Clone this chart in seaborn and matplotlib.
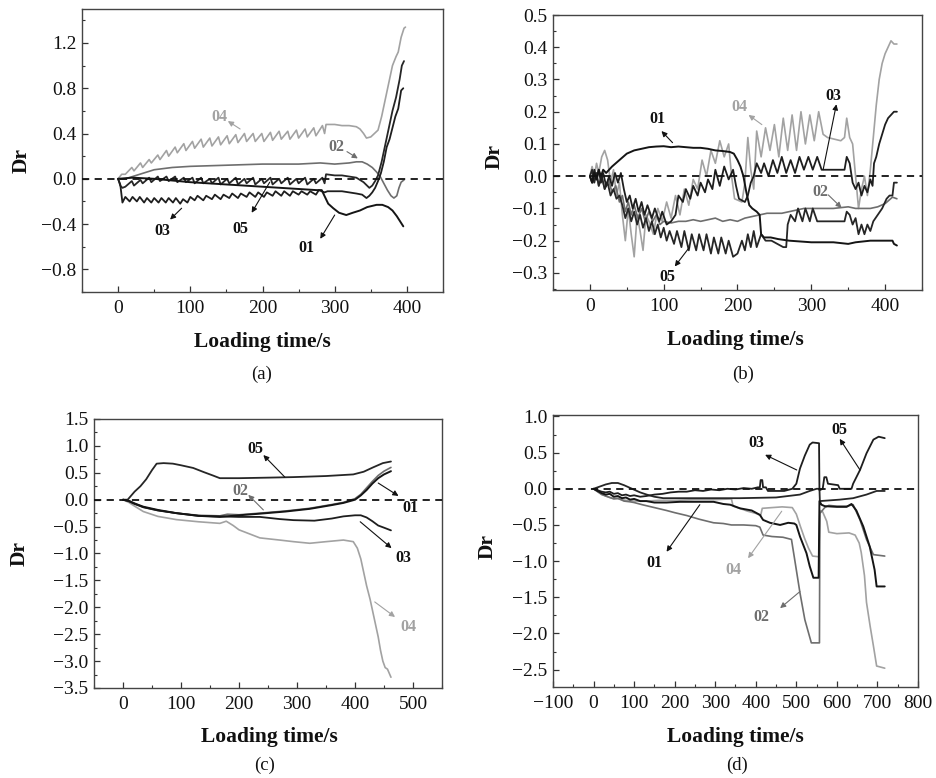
import matplotlib
matplotlib.use("Agg")
import matplotlib.pyplot as plt
from matplotlib.ticker import MultipleLocator, FuncFormatter
import seaborn as sns
import pandas as pd

# ---------------- data (time s, Dr) ----------------
# panel (a)
a01 = [(0, 0), (20, 0.01), (50, 0.0), (100, -0.03), (150, -0.05), (200, -0.07), (250, -0.09), (275, -0.10),
       (282, -0.10), (291, -0.22), (298, -0.26), (306, -0.30), (316, -0.32), (325, -0.30), (335, -0.28),
       (345, -0.25), (358, -0.23), (366, -0.23), (374, -0.25), (380, -0.28), (386, -0.33), (390, -0.37), (395, -0.42)]
a02 = [(0, 0), (10, 0.0), (20, 0.02), (35, 0.05), (50, 0.08), (75, 0.10), (100, 0.11), (150, 0.12), (200, 0.13),
       (250, 0.13), (280, 0.14), (300, 0.13), (320, 0.14), (330, 0.15), (338, 0.15), (345, 0.13), (352, 0.10),
       (358, 0.06), (363, 0.02), (368, -0.04), (373, -0.10), (378, -0.15), (382, -0.17), (386, -0.15),
       (389, -0.08), (392, -0.03), (396, -0.01)]
a03 = [(0, 0), (3, -0.05), (6, -0.21), (10, -0.16), (16, -0.20), (20, -0.16), (26, -0.20), (30, -0.16), (36, -0.21),
       (40, -0.17), (46, -0.21), (50, -0.17), (56, -0.21), (60, -0.17), (66, -0.21), (70, -0.17), (76, -0.21),
       (80, -0.17), (86, -0.22), (90, -0.18), (96, -0.21), (100, -0.16), (106, -0.19), (110, -0.15), (118, -0.19),
       (122, -0.15), (130, -0.18), (134, -0.14), (142, -0.18), (146, -0.14), (154, -0.17), (158, -0.13),
       (166, -0.17), (170, -0.13), (178, -0.16), (182, -0.12), (190, -0.16), (194, -0.12), (202, -0.16),
       (206, -0.12), (214, -0.15), (218, -0.11), (226, -0.15), (230, -0.11), (238, -0.15), (242, -0.11),
       (250, -0.14), (254, -0.11), (262, -0.14), (266, -0.11), (274, -0.14), (278, -0.10), (286, -0.12),
       (290, -0.11), (300, -0.11), (310, -0.11), (320, -0.12), (330, -0.13), (338, -0.14), (344, -0.17),
       (348, -0.15), (352, -0.12), (356, -0.08), (360, -0.02), (364, 0.05), (368, 0.15), (372, 0.28),
       (376, 0.35), (380, 0.45), (384, 0.55), (388, 0.62), (392, 0.78), (395, 0.80)]
a04 = [(0, 0), (5, 0.04), (10, 0.04), (19, 0.10), (22, 0.07), (31, 0.14), (34, 0.10), (43, 0.17), (46, 0.14),
       (55, 0.21), (58, 0.17), (67, 0.25), (70, 0.20), (79, 0.28), (82, 0.23), (91, 0.31), (94, 0.25),
       (103, 0.33), (106, 0.27), (115, 0.35), (118, 0.28), (127, 0.36), (130, 0.29), (139, 0.37), (142, 0.30),
       (151, 0.38), (154, 0.31), (163, 0.39), (166, 0.32), (175, 0.40), (178, 0.33), (187, 0.40), (190, 0.33),
       (199, 0.40), (202, 0.33), (211, 0.41), (214, 0.34), (223, 0.42), (226, 0.35), (235, 0.42), (238, 0.35),
       (247, 0.43), (250, 0.36), (259, 0.44), (262, 0.37), (271, 0.45), (274, 0.38), (283, 0.47), (286, 0.40),
       (288, 0.48), (300, 0.48), (310, 0.47), (320, 0.47), (330, 0.46), (335, 0.44), (340, 0.40), (344, 0.36),
       (350, 0.37), (355, 0.40), (360, 0.43), (365, 0.55), (370, 0.70), (375, 0.85), (380, 1.00), (385, 1.08),
       (388, 1.12), (392, 1.25), (396, 1.33), (398, 1.34)]
a05 = [(0, 0), (3, -0.06), (6, -0.08), (10, -0.07), (19, -0.02), (22, -0.06), (31, -0.01), (34, -0.04),
       (43, 0.01), (46, -0.03), (55, 0.02), (58, -0.02), (67, 0.02), (70, -0.02), (79, 0.02), (82, -0.03),
       (91, 0.01), (94, -0.03), (103, 0.01), (106, -0.04), (115, 0.01), (118, -0.04), (127, 0.0), (130, -0.04),
       (139, 0.01), (142, -0.05), (151, 0.0), (154, -0.04), (163, 0.01), (166, -0.05), (175, 0.0), (178, -0.04),
       (187, 0.01), (190, -0.05), (199, 0.0), (202, -0.04), (211, 0.01), (214, -0.05), (223, 0.0), (226, -0.04),
       (235, 0.01), (238, -0.05), (247, 0.0), (250, -0.04), (259, 0.01), (262, -0.05), (271, 0.0), (274, -0.04),
       (283, 0.01), (286, -0.04), (288, 0.04), (300, 0.03), (310, 0.03), (320, 0.02), (330, 0.01), (340, -0.03),
       (348, -0.08), (352, -0.06), (356, -0.02), (360, 0.03), (365, 0.15), (370, 0.30), (375, 0.45), (380, 0.60),
       (385, 0.72), (390, 0.88), (393, 1.0), (396, 1.04)]

# panel (b)
b01 = [(0, 0), (3, -0.02), (6, 0.01), (9, -0.01), (12, 0.02), (15, 0.0), (18, 0.02), (22, 0.01), (26, 0.02),
       (30, 0.03), (35, 0.04), (40, 0.05), (45, 0.06), (50, 0.07), (55, 0.075), (60, 0.08), (70, 0.085),
       (80, 0.09), (90, 0.092), (100, 0.093), (110, 0.09), (120, 0.092), (130, 0.09), (140, 0.088), (150, 0.088),
       (160, 0.085), (170, 0.08), (180, 0.078), (190, 0.075), (195, 0.07), (200, 0.05), (204, 0.03), (208, 0.0),
       (212, -0.05), (216, -0.09), (220, -0.10), (226, -0.11), (230, -0.12), (232, -0.18), (236, -0.19),
       (245, -0.19), (255, -0.195), (270, -0.2), (300, -0.205), (330, -0.205), (350, -0.21), (360, -0.205),
       (380, -0.2), (400, -0.2), (410, -0.2), (412, -0.21), (416, -0.215)]
b02 = [(0, 0), (4, -0.02), (8, 0.01), (12, -0.03), (16, 0.0), (20, -0.04), (25, -0.01), (30, -0.05), (35, -0.03),
       (40, -0.08), (44, -0.06), (48, -0.11), (52, -0.08), (56, -0.12), (60, -0.09), (65, -0.13), (70, -0.10),
       (75, -0.14), (80, -0.11), (85, -0.14), (90, -0.12), (95, -0.15), (100, -0.14), (110, -0.145), (120, -0.14),
       (130, -0.14), (140, -0.135), (150, -0.14), (160, -0.135), (170, -0.13), (180, -0.14), (190, -0.135),
       (200, -0.14), (210, -0.13), (220, -0.125), (230, -0.12), (240, -0.115), (260, -0.115), (270, -0.11),
       (280, -0.105), (290, -0.10), (310, -0.10), (330, -0.10), (350, -0.095), (360, -0.1), (370, -0.1),
       (380, -0.1), (390, -0.095), (400, -0.085), (405, -0.075), (410, -0.065), (416, -0.07)]
b03 = [(0, 0), (3, -0.02), (6, 0.02), (9, -0.01), (12, 0.02), (15, -0.02), (18, 0.01), (22, -0.03), (26, 0.0),
       (30, -0.03), (34, 0.01), (38, -0.02), (42, 0.01), (46, -0.04), (50, -0.08), (54, -0.06), (58, -0.10),
       (62, -0.07), (66, -0.11), (70, -0.08), (74, -0.12), (78, -0.09), (84, -0.13), (88, -0.10), (94, -0.14),
       (98, -0.11), (104, -0.15), (110, -0.14), (116, -0.12), (120, -0.06), (126, -0.08), (130, -0.04),
       (136, -0.07), (140, -0.03), (146, -0.06), (150, -0.02), (156, -0.05), (160, -0.01), (166, -0.04),
       (170, 0.02), (176, -0.03), (182, 0.03), (188, -0.01), (194, 0.02), (198, -0.03), (202, -0.07),
       (210, -0.08), (214, -0.06), (218, -0.02), (222, 0.0), (226, 0.04), (232, 0.01), (236, 0.04), (242, 0.0),
       (248, 0.05), (254, 0.01), (260, 0.06), (266, 0.01), (272, 0.05), (278, 0.01), (284, 0.06), (290, 0.02),
       (296, 0.06), (302, 0.02), (308, 0.06), (314, 0.02), (320, 0.02), (330, 0.02), (345, 0.02), (348, 0.06),
       (352, 0.04), (356, -0.02), (360, -0.04), (364, -0.02), (368, -0.06), (372, -0.03), (376, -0.05),
       (380, -0.01), (383, -0.03), (385, 0.04), (388, 0.06), (392, 0.10), (396, 0.13), (400, 0.16), (404, 0.18),
       (408, 0.19), (412, 0.20), (416, 0.20)]
b04 = [(0, 0), (3, 0.03), (6, 0.0), (9, 0.04), (12, 0.01), (16, 0.06), (20, 0.08), (24, 0.05), (28, -0.02),
       (32, 0.02), (36, -0.06), (40, -0.02), (44, -0.12), (48, -0.20), (52, -0.10), (56, -0.18), (60, -0.25),
       (64, -0.12), (68, -0.17), (72, -0.23), (76, -0.12), (80, -0.14), (86, -0.18), (92, -0.10), (98, -0.14),
       (104, -0.08), (110, -0.13), (116, -0.06), (122, -0.12), (128, -0.04), (134, -0.09), (140, -0.01),
       (146, -0.04), (152, 0.05), (158, 0.0), (164, 0.08), (170, 0.04), (176, 0.11), (182, 0.06), (188, 0.10),
       (192, 0.0), (196, -0.07), (206, -0.08), (210, -0.02), (214, 0.12), (218, 0.02), (222, -0.04), (226, 0.14),
       (232, 0.06), (238, 0.15), (244, 0.08), (250, 0.16), (256, 0.06), (262, 0.18), (268, 0.08), (274, 0.19),
       (280, 0.08), (286, 0.20), (292, 0.10), (298, 0.19), (304, 0.11), (310, 0.20), (316, 0.13), (322, 0.12),
       (340, 0.11), (345, 0.12), (348, 0.18), (352, 0.12), (356, 0.10), (360, 0.0), (364, -0.10), (368, -0.04),
       (372, 0.0), (376, -0.06), (380, 0.02), (384, 0.12), (388, 0.22), (392, 0.30), (396, 0.35), (400, 0.38),
       (404, 0.40), (408, 0.42), (412, 0.41), (416, 0.41)]
b05 = [(0, 0), (3, 0.02), (6, -0.02), (9, 0.01), (12, -0.03), (16, 0.0), (20, -0.04), (24, -0.02), (28, -0.06),
       (32, -0.04), (36, -0.07), (40, -0.06), (44, -0.09), (48, -0.13), (52, -0.10), (56, -0.14), (60, -0.11),
       (64, -0.15), (68, -0.12), (72, -0.16), (76, -0.13), (80, -0.17), (84, -0.14), (88, -0.18), (92, -0.15),
       (96, -0.19), (100, -0.16), (104, -0.20), (108, -0.17), (114, -0.21), (118, -0.17), (124, -0.22),
       (128, -0.17), (134, -0.23), (138, -0.18), (144, -0.23), (148, -0.18), (154, -0.23), (158, -0.18),
       (164, -0.24), (168, -0.19), (174, -0.24), (178, -0.19), (184, -0.24), (188, -0.20), (194, -0.25),
       (200, -0.24), (206, -0.20), (210, -0.23), (214, -0.18), (218, -0.22), (222, -0.17), (226, -0.22),
       (232, -0.18), (238, -0.20), (246, -0.20), (254, -0.21), (262, -0.22), (266, -0.22), (268, -0.15),
       (272, -0.12), (278, -0.14), (282, -0.10), (288, -0.14), (292, -0.10), (298, -0.14), (302, -0.10),
       (308, -0.14), (320, -0.14), (345, -0.14), (348, -0.11), (352, -0.12), (356, -0.15), (360, -0.13),
       (364, -0.18), (368, -0.15), (372, -0.18), (376, -0.15), (380, -0.17), (384, -0.14), (390, -0.12),
       (396, -0.10), (402, -0.07), (406, -0.06), (410, -0.06), (412, -0.02), (416, -0.02)]

# panel (c)
c01 = [(0, 0), (10, -0.02), (20, -0.07), (35, -0.13), (60, -0.19), (92, -0.25), (130, -0.30), (167, -0.32),
       (200, -0.29), (236, -0.26), (280, -0.22), (322, -0.17), (360, -0.10), (380, -0.06), (400, 0.0),
       (410, 0.08), (420, 0.18), (430, 0.30), (440, 0.40), (450, 0.47), (462, 0.53)]
c02 = [(0, 0), (10, -0.02), (20, -0.07), (35, -0.14), (60, -0.20), (92, -0.25), (130, -0.29), (167, -0.30),
       (180, -0.27), (200, -0.28), (236, -0.25), (280, -0.21), (322, -0.16), (360, -0.09), (380, -0.05),
       (400, 0.02), (410, 0.10), (420, 0.22), (430, 0.34), (440, 0.45), (450, 0.53), (462, 0.60)]
c03 = [(0, 0), (10, -0.03), (20, -0.08), (35, -0.14), (60, -0.20), (92, -0.25), (130, -0.30), (167, -0.31),
       (200, -0.32), (236, -0.32), (270, -0.36), (294, -0.38), (330, -0.39), (360, -0.35), (380, -0.31),
       (400, -0.29), (410, -0.29), (420, -0.33), (430, -0.40), (440, -0.48), (450, -0.52), (462, -0.57)]
c04 = [(0, 0), (10, -0.05), (20, -0.12), (35, -0.22), (60, -0.31), (92, -0.37), (130, -0.41), (167, -0.44),
       (178, -0.40), (190, -0.48), (200, -0.56), (236, -0.71), (270, -0.75), (294, -0.78), (322, -0.81),
       (350, -0.78), (380, -0.75), (397, -0.78), (404, -0.90), (410, -1.10), (415, -1.35), (420, -1.60),
       (426, -1.85), (431, -2.10), (436, -2.35), (440, -2.55), (444, -2.80), (448, -3.00), (452, -3.12),
       (456, -3.15), (460, -3.25), (462, -3.30)]
c05 = [(0, 0), (8, 0.0), (12, 0.05), (20, 0.15), (30, 0.25), (40, 0.38), (50, 0.55), (58, 0.67), (70, 0.68),
       (86, 0.67), (100, 0.64), (121, 0.59), (140, 0.51), (155, 0.45), (167, 0.40), (200, 0.40), (250, 0.41),
       (294, 0.42), (350, 0.44), (397, 0.47), (415, 0.52), (431, 0.60), (448, 0.68), (462, 0.71)]

# panel (d)
d01 = [(0, 0), (10, -0.03), (20, -0.06), (30, -0.08), (40, -0.07), (50, -0.11), (60, -0.10), (70, -0.13),
       (80, -0.12), (90, -0.15), (100, -0.14), (115, -0.17), (130, -0.17), (150, -0.19), (180, -0.19),
       (213, -0.18), (250, -0.18), (296, -0.18), (320, -0.21), (337, -0.22), (361, -0.27), (390, -0.30),
       (410, -0.36), (418, -0.43), (435, -0.47), (460, -0.50), (480, -0.47), (495, -0.48), (500, -0.50),
       (509, -0.66), (525, -0.89), (533, -1.07), (542, -1.23), (555, -1.23), (557, -0.17), (562, -0.22),
       (570, -0.24), (600, -0.25), (624, -0.25), (636, -0.21), (648, -0.30), (665, -0.52), (681, -0.80),
       (693, -1.12), (698, -1.35), (718, -1.35)]
d02 = [(0, 0), (10, -0.04), (20, -0.08), (30, -0.10), (40, -0.12), (50, -0.14), (60, -0.13), (75, -0.17),
       (90, -0.18), (100, -0.19), (120, -0.22), (150, -0.26), (180, -0.30), (200, -0.33), (230, -0.37),
       (260, -0.42), (296, -0.47), (320, -0.48), (340, -0.50), (370, -0.50), (400, -0.51), (410, -0.53),
       (418, -0.64), (440, -0.66), (467, -0.67), (488, -0.70), (496, -0.98), (509, -1.44), (521, -1.81),
       (537, -2.13), (557, -2.13), (558, -0.34), (570, -0.26), (580, -0.23), (600, -0.24), (624, -0.24),
       (640, -0.22), (657, -0.43), (673, -0.70), (690, -0.91), (718, -0.93)]
d03 = [(0, 0), (10, -0.02), (20, -0.04), (30, -0.05), (40, -0.04), (50, -0.07), (60, -0.06), (70, -0.09),
       (80, -0.08), (90, -0.10), (100, -0.09), (115, -0.11), (130, -0.10), (150, -0.08), (170, -0.07),
       (190, -0.05), (210, -0.04), (230, -0.04), (250, -0.02), (270, -0.03), (290, -0.01), (310, -0.02),
       (330, 0.0), (350, -0.01), (370, 0.01), (390, 0.0), (405, 0.02), (410, 0.02), (412, 0.12), (416, 0.12),
       (418, 0.02), (425, 0.02), (430, -0.03), (470, -0.03), (490, 0.0), (500, 0.07), (509, 0.28), (521, 0.46),
       (533, 0.61), (540, 0.64), (556, 0.63), (557, -0.02), (565, 0.0), (569, 0.16), (574, 0.16), (578, 0.07),
       (603, 0.05), (607, 0.0), (636, 0.0), (640, 0.07), (657, 0.26), (673, 0.49), (690, 0.68), (703, 0.72),
       (718, 0.70)]
d04 = [(0, 0), (10, -0.04), (20, -0.07), (30, -0.10), (45, -0.13), (60, -0.14), (80, -0.16), (100, -0.17),
       (130, -0.17), (160, -0.16), (200, -0.16), (250, -0.15), (300, -0.15), (340, -0.14), (344, -0.24),
       (360, -0.27), (380, -0.31), (400, -0.34), (412, -0.37), (416, -0.27), (440, -0.26), (465, -0.25),
       (490, -0.26), (500, -0.35), (510, -0.52), (520, -0.68), (530, -0.82), (540, -0.93), (556, -0.94),
       (558, -0.30), (565, -0.32), (575, -0.45), (580, -0.60), (600, -0.62), (630, -0.61), (645, -0.64),
       (655, -0.75), (660, -0.88), (668, -1.20), (673, -1.57), (682, -1.90), (690, -2.17), (698, -2.45),
       (718, -2.48)]
d05 = [(0, 0), (15, 0.03), (30, 0.06), (45, 0.08), (60, 0.08), (75, 0.05), (95, 0.0), (115, -0.05),
       (131, -0.08), (150, -0.11), (172, -0.13), (250, -0.13), (360, -0.13), (450, -0.12), (509, -0.08),
       (533, -0.03), (550, 0.0), (557, 0.0), (558, -0.17), (607, -0.15), (640, -0.13), (673, -0.08),
       (698, -0.03), (718, -0.03)]

specimens = ["01", "02", "03", "04", "05"]
panel_letters = ["(a)", "(b)", "(c)", "(d)"]

# label positions (text x, text y, arrow tail x, y, arrow head x, y)
a_labels = {"04": (140, 0.55, 169, 0.44, 152, 0.51), "02": (303, 0.28, 317, 0.24, 332, 0.18),
            "03": (61, -0.46, 88, -0.26, 72, -0.36), "05": (169, -0.44, 210, -0.03, 185, -0.30),
            "01": (261, -0.61, 300, -0.32, 280, -0.53)}
b_labels = {"01": (92, 0.176, 112, 0.104, 97, 0.14), "04": (202, 0.216, 233, 0.16, 215, 0.19),
            "03": (330, 0.248, 316, 0.02, 334, 0.223), "02": (312, -0.05, 323, -0.058, 341, -0.098),
            "05": (105, -0.313, 135, -0.22, 115, -0.28)}
c_labels = {"05": (228, 0.94, 279, 0.42, 242, 0.83), "02": (202, 0.16, 242, -0.19, 216, 0.09),
            "01": (495, -0.15, 440, 0.31, 475, 0.07), "03": (483, -1.09, 409, -0.41, 463, -0.90),
            "04": (492, -2.37, 434, -1.90, 469, -2.18)}
d_labels = {"03": (402, 0.63, 501, 0.26, 423, 0.47), "05": (607, 0.81, 657, 0.26, 607, 0.69),
            "01": (151, -1.03, 262, -0.22, 180, -0.87), "04": (344, -1.12, 464, -0.31, 381, -0.96),
            "02": (414, -1.77, 509, -1.42, 460, -1.65)}

# ---------------- styling ----------------
sns.set_theme(style="ticks")
plt.rcParams["font.family"] = ["Liberation Serif", "DejaVu Serif"]

colors = {"01": "#151515", "02": "#6e6e6e", "03": "#1e1e1e", "04": "#a2a2a2", "05": "#262626"}
widths = {"01": 1.4, "02": 1.2, "03": 1.3, "04": 1.2, "05": 1.3}

fig = plt.figure(figsize=(9.37, 7.78), dpi=100)
W, H = 937, 778


def rect(l, r, t, b):
    return [l / W, 1 - b / H, (r - l) / W, (b - t) / H]


panels = [
    dict(rect=rect(82, 443, 9, 292), data=[a01, a02, a03, a04, a05], xlim=(-50, 450), ylim=(-1.0, 1.5),
         xmaj=100, xmin=50, ymaj=0.4, ymin=0.2, labels=a_labels,
         xl=(0.5, -0.177), yl=(-0.167, 0.466), letter=(262, 374), yticks=[-0.8, -0.4, 0.0, 0.4, 0.8, 1.2]),
    dict(rect=rect(553, 922, 15, 290), data=[b01, b02, b03, b04, b05], xlim=(-50, 450), ylim=(-0.353, 0.5),
         xmaj=100, xmin=50, ymaj=0.1, ymin=0.05, labels=b_labels,
         xl=(0.495, -0.182), yl=(-0.157, 0.484), letter=(743, 374), yticks=None),
    dict(rect=rect(94, 442, 419, 688), data=[c01, c02, c03, c04, c05], xlim=(-50, 550), ylim=(-3.5, 1.5),
         xmaj=100, xmin=50, ymaj=0.5, ymin=0.25, labels=c_labels,
         xl=(0.503, -0.181), yl=(-0.213, 0.50), letter=(265, 765), yticks=None),
    dict(rect=rect(553, 918, 415, 687), data=[d01, d02, d03, d04, d05], xlim=(-100, 800), ylim=(-2.74, 1.02),
         xmaj=100, xmin=50, ymaj=0.5, ymin=0.25, labels=d_labels,
         xl=(0.50, -0.183), yl=(-0.178, 0.515), letter=(737, 765), yticks=None),
]

draw_order = ["04", "02", "05", "03", "01"]

for i, p in enumerate(panels):
    ax = fig.add_axes(p["rect"])
    curves = dict(zip(specimens, p["data"]))
    for s in draw_order:
        df = pd.DataFrame(curves[s], columns=["t", "Dr"])
        sns.lineplot(data=df, x="t", y="Dr", ax=ax, color=colors[s], linewidth=widths[s],
                     estimator=None, sort=False, legend=False)
    ax.axhline(0, color="#111111", lw=1.3, ls=(0, (4, 3)), zorder=5)
    ax.set_xlim(*p["xlim"])
    ax.set_ylim(*p["ylim"])
    ax.xaxis.set_major_locator(MultipleLocator(p["xmaj"]))
    ax.xaxis.set_minor_locator(MultipleLocator(p["xmin"]))
    if p["yticks"] is not None:
        ax.set_yticks(p["yticks"])
    else:
        ax.yaxis.set_major_locator(MultipleLocator(p["ymaj"]))
    ax.yaxis.set_minor_locator(MultipleLocator(p["ymin"]))
    ax.yaxis.set_major_formatter(FuncFormatter(
        lambda v, pos: ("\u2212" if v < -1e-9 else "") + "{:.1f}".format(abs(v))))
    ax.tick_params(axis="both", which="both", direction="in", bottom=True, left=True, top=False, right=False,
                   labelsize=14, color="#333333", labelcolor="#111111")
    ax.tick_params(which="major", length=4.5, width=0.9)
    ax.tick_params(which="minor", length=2.5, width=0.8)
    ax.tick_params(axis="x", pad=6)
    ax.tick_params(axis="y", pad=4)
    for sp in ax.spines.values():
        sp.set_color("#444444")
        sp.set_linewidth(1.0)
    ax.set_xlabel("Loading time/s", fontsize=15.5, fontweight="bold", color="#111111")
    ax.set_ylabel("Dr", fontsize=15.5, fontweight="bold", color="#111111")
    ax.xaxis.set_label_coords(*p["xl"])
    ax.xaxis.label.set_va("center")
    ax.yaxis.set_label_coords(*p["yl"])
    ax.yaxis.label.set_va("center")
    for s, (tx, ty, ax0, ay0, hx, hy) in p["labels"].items():
        tcol = colors[s] if s in ("02", "04") else "#111111"
        ax.text(tx, ty, s, fontsize=11.5, fontweight="bold", color=tcol, ha="center", va="center", zorder=6)
        ax.annotate("", xy=(hx, hy), xytext=(ax0, ay0),
                    arrowprops=dict(arrowstyle="-|>", color=tcol, lw=0.8, mutation_scale=8,
                                    shrinkA=0, shrinkB=0), zorder=6)
    lx, ly = p["letter"]
    fig.text(lx / W, 1 - ly / H, panel_letters[i], fontsize=13.5, ha="center", va="center", color="#111111")

fig.savefig("out.png", dpi=100, facecolor="white")
